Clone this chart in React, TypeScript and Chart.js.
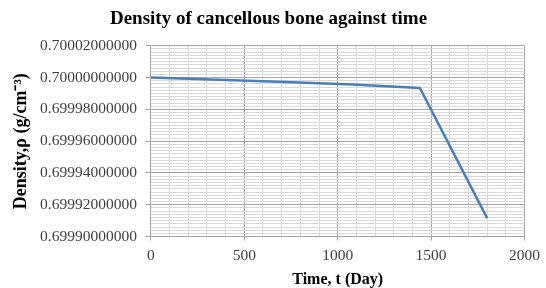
import React, { useEffect, useRef } from "react";
import { Chart, registerables } from "chart.js";

Chart.register(...registerables);

const days = [0, 360, 720, 1080, 1440, 1800];
const density = [0.7, 0.6999986, 0.6999972, 0.6999957, 0.6999935, 0.6999116];
const chartTitle = "Density of cancellous bone against time";
const xTitle = "Time, t (Day)";
const yTitle = "Density,ρ (g/cm⁻³)";

export default function App() {
  const ref = useRef<HTMLCanvasElement>(null);
  useEffect(() => {
    document.body.style.margin = "0";
    const serif = '"Liberation Serif", "Times New Roman", Times, serif';
    const majorX = (v: number) => Math.abs(v % 500) < 1e-6;
    const majorY = (v: number) => Math.round(v * 1e6) % 20 === 0;
    const chart = new Chart(ref.current!, {
      type: "line",
      data: {
        datasets: [
          {
            data: days.map((d, i) => ({ x: d, y: density[i] })),
            borderColor: "#4a7ebb",
            borderWidth: 2.5,
            pointRadius: 0,
            tension: 0,
          },
        ],
      },
      options: {
        animation: false,
        responsive: false,
        layout: { padding: { left: 12, right: 21, top: 4, bottom: 0 } },
        plugins: {
          legend: { display: false },
          tooltip: { enabled: false },
          title: {
            display: true,
            text: chartTitle,
            color: "#000",
            font: { family: serif, size: 19, weight: "bold" },
            padding: { top: 4, bottom: 15 },
          },
        },
        scales: {
          x: {
            type: "linear",
            min: 0,
            max: 2000,
            ticks: {
              stepSize: 100,
              autoSkip: false,
              maxRotation: 0,
              color: "#404040",
              font: { family: serif, size: 15.5 },
              padding: 6,
              callback: (v: any) => (majorX(Number(v)) ? String(v) : ""),
            },
            grid: {
              color: (c: any) => (majorX(c.tick.value) ? "#a6a6a6" : "#d9d9d9"),
              tickLength: 4,
              tickColor: (c: any) => (majorX(c.tick.value) ? "#a6a6a6" : "transparent"),
            },
            border: { color: "#a6a6a6" },
            title: {
              display: true,
              text: xTitle,
              color: "#000",
              font: { family: serif, size: 16, weight: "bold", lineHeight: 1.05 },
              padding: { top: 0, bottom: 0 },
            },
          },
          y: {
            type: "linear",
            min: 0.6999,
            max: 0.70002,
            ticks: {
              stepSize: 0.000002,
              autoSkip: false,
              color: "#404040",
              font: { family: serif, size: 15.5 },
              padding: 9,
              callback: (v: any) => (majorY(Number(v)) ? Number(v).toFixed(11) : ""),
            },
            grid: {
              color: (c: any) => (majorY(c.tick.value) ? "#a6a6a6" : "#d9d9d9"),
              tickLength: 5,
              tickColor: (c: any) => (majorY(c.tick.value) ? "#a6a6a6" : "transparent"),
            },
            border: { color: "#a6a6a6" },
            title: {
              display: true,
              text: yTitle,
              color: "#000",
              font: { family: serif, size: 18, weight: "bold", lineHeight: 1.0 },
              padding: { top: 0, bottom: 1 },
            },
          },
        },
      },
    });
    return () => chart.destroy();
  }, []);
  return <canvas ref={ref} width={546} height={288} style={{ display: "block" }} />;
}
